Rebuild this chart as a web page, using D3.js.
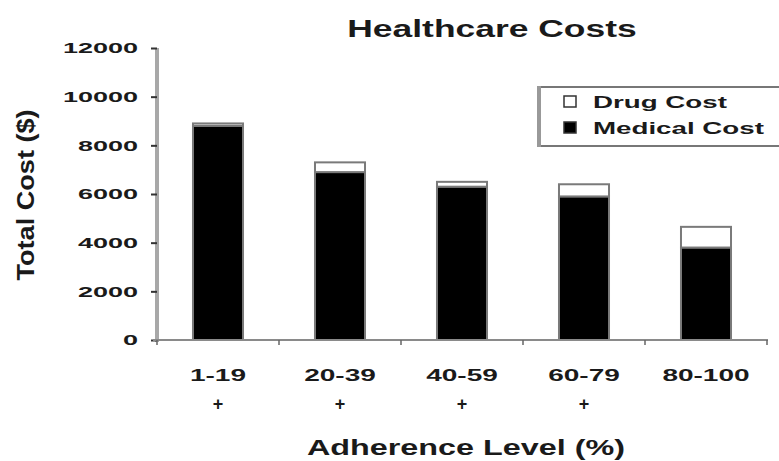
<!DOCTYPE html>
<html>
<head>
<meta charset="utf-8">
<script src="https://cdn.jsdelivr.net/npm/d3@7/dist/d3.min.js"></script>
<style>
  html, body { margin: 0; padding: 0; background: #fff; }
  svg { display: block; }
  text { font-family: "Liberation Sans", Arial, sans-serif; font-weight: bold; fill: #1a1a1a; }
</style>
</head>
<body>
<svg id="chart" width="779" height="461"></svg>
<script>
// Adherence level groups and their cost components (USD)
const categories = ["1-19", "20-39", "40-59", "60-79", "80-100"];
const significance = ["+", "+", "+", "+", ""];
const medicalCost = [8800, 6900, 6300, 5900, 3800];
const drugCost = [100, 400, 200, 500, 850];
const yTicks = [0, 2000, 4000, 6000, 8000, 10000, 12000];
const seriesNames = ["Medical Cost", "Drug Cost"];
const legendNames = ["Drug Cost", "Medical Cost"];

const svg = d3.select("#chart");
const margin = { left: 157, right: 12, top: 48, bottom: 121 };
const W = 779, H = 461;

const x = d3.scaleBand()
  .domain(categories)
  .range([margin.left, W - margin.right])
  .paddingInner(0.59)
  .paddingOuter(0.295);

const y = d3.scaleLinear()
  .domain([0, 12000])
  .range([H - margin.bottom, margin.top]);

const colors = { "Medical Cost": "#000000", "Drug Cost": "#ffffff" };

// stretch text horizontally along its own direction
function stretch(sel, factor) {
  sel.each(function () {
    const w = this.getComputedTextLength();
    d3.select(this).attr("textLength", w * factor).attr("lengthAdjust", "spacingAndGlyphs");
  });
}

// stacked data
const rows = categories.map((c, i) => ({ cat: c, "Medical Cost": medicalCost[i], "Drug Cost": drugCost[i] }));
const stacked = d3.stack().keys(seriesNames)(rows);

// bars
svg.append("g").selectAll("g")
  .data(stacked)
  .join("g")
  .attr("fill", d => colors[d.key])
  .selectAll("rect")
  .data(d => d)
  .join("rect")
  .attr("x", d => x(d.data.cat))
  .attr("width", x.bandwidth())
  .attr("y", d => y(d[1]))
  .attr("height", d => y(d[0]) - y(d[1]))
  .attr("stroke", "#7a7a7a")
  .attr("stroke-width", 2);

// y axis
const yAxis = svg.append("g")
  .attr("transform", `translate(${margin.left},0)`)
  .call(d3.axisLeft(y).tickValues(yTicks).tickSize(6).tickPadding(13).tickFormat(d3.format("d")));
yAxis.select(".domain").attr("stroke", "#a8a8a8").attr("stroke-width", 4)
  .attr("d", `M0,${y(12000)}V${y(0) + 2}`);
yAxis.selectAll(".tick line").attr("stroke", "#333").attr("stroke-width", 2);
yAxis.selectAll(".tick text")
  .attr("font-size", 15)
  .attr("fill", "#1a1a1a")
  .attr("font-family", "Liberation Sans, Arial, sans-serif")
  .attr("font-weight", "bold")
  .call(stretch, 1.8);

// x axis: baseline with small ticks at group boundaries
const bounds = categories.map(c => x(c) - x.step() * x.paddingInner() / 2).concat([W - margin.right]);
const xAxis = svg.append("g");
xAxis.append("line")
  .attr("x1", margin.left - 4).attr("x2", W - margin.right + 1)
  .attr("y1", y(0)).attr("y2", y(0))
  .attr("stroke", "#8a8a8a").attr("stroke-width", 2);
xAxis.selectAll("line.tk")
  .data(bounds)
  .join("line")
  .attr("class", "tk")
  .attr("x1", d => d).attr("x2", d => d)
  .attr("y1", y(0)).attr("y2", y(0) + 5)
  .attr("stroke", "#666").attr("stroke-width", 1.5);

// category labels and significance markers
svg.append("g").selectAll("text")
  .data(categories)
  .join("text")
  .attr("x", d => x(d) + x.bandwidth() / 2)
  .attr("y", y(0) + 41)
  .attr("text-anchor", "middle")
  .attr("font-size", 16)
  .text(d => d)
  .call(stretch, 1.75);

svg.append("g").selectAll("text")
  .data(significance.map((s, i) => ({ s, c: categories[i] })))
  .join("text")
  .attr("x", d => x(d.c) + x.bandwidth() / 2)
  .attr("y", y(0) + 70)
  .attr("text-anchor", "middle")
  .attr("font-size", 18)
  .text(d => d.s);

// titles
svg.append("text")
  .attr("x", 492).attr("y", 37)
  .attr("text-anchor", "middle")
  .attr("font-size", 23)
  .attr("fill", "#222")
  .text("Healthcare Costs")
  .call(stretch, 1.54);

svg.append("text")
  .attr("x", 466).attr("y", 455)
  .attr("text-anchor", "middle")
  .attr("font-size", 22)
  .attr("fill", "#222")
  .text("Adherence Level (%)")
  .call(stretch, 1.47);

svg.append("text")
  .attr("transform", "translate(34,195) rotate(-90)")
  .attr("text-anchor", "middle")
  .attr("font-size", 24)
  .attr("fill", "#222")
  .text("Total Cost ($)")
  .call(stretch, 1.13);

// legend
const lg = svg.append("g");
lg.append("rect")
  .attr("x", 539).attr("y", 87).attr("width", 260).attr("height", 59)
  .attr("fill", "#fff").attr("stroke", "#777").attr("stroke-width", 2);
lg.append("line")
  .attr("x1", 539).attr("x2", 539).attr("y1", 86).attr("y2", 147)
  .attr("stroke", "#999").attr("stroke-width", 4);
const items = lg.selectAll("g.item")
  .data(legendNames)
  .join("g")
  .attr("class", "item")
  .attr("transform", (d, i) => `translate(564,${96 + i * 26})`);
items.append("rect")
  .attr("width", 12).attr("height", 11)
  .attr("fill", d => colors[d])
  .attr("stroke", "#333").attr("stroke-width", 1.5);
items.append("text")
  .attr("x", 29).attr("y", 12)
  .attr("font-size", 17)
  .attr("fill", "#2a2a2a")
  .text(d => d)
  .call(stretch, 1.63);
</script>
</body>
</html>
